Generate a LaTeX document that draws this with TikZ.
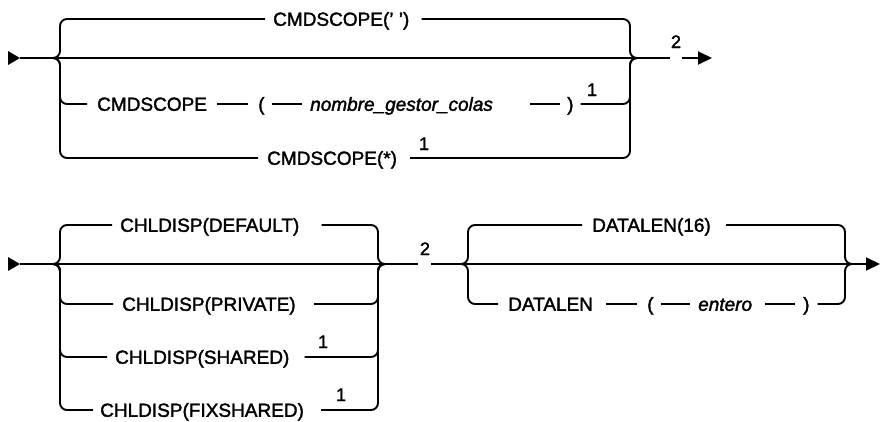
\documentclass[tikz,border=0pt]{standalone}
\usepackage{fontspec}
\setmainfont{Liberation Sans}[FakeBold=1.8]
\usetikzlibrary{arrows.meta,calc}

\begin{document}
\begin{tikzpicture}[x=1pt,y=-1pt,
    rail/.style={line width=1.9pt, rounded corners=7pt},
    lbl/.style={anchor=west, inner xsep=0pt, inner ysep=0pt,
        text height=13.6pt, text depth=0pt, font=\fontsize{19}{22}\selectfont},
    var/.style={lbl, font=\fontsize{19}{22}\selectfont\itshape},
    note/.style={anchor=base, inner sep=0pt, font=\fontsize{18}{20}\selectfont},
    endarrow/.style={rail, -{Triangle[length=14pt,width=13pt]}}
]
\useasboundingbox (0,0) rectangle (880,421);

% primer diagrama: CMDSCOPE
\coordinate (tbeg) at (20,58);
\coordinate (tjl) at (53,58);
\coordinate (tjr) at (637,58);
\coordinate (t2l) at (670,58);
\coordinate (t2r) at (682,58);
\coordinate (tend) at (712,58);

\node[lbl] (dflt) at (273,19) {CMDSCOPE(' ')};
\node[lbl] (cmd) at (97,104) {CMDSCOPE};
\node[lbl] (lpar) at (258,104) {(};
\node[var] (qmgr) at (310,104) {nombre\_gestor\_colas};
\node[lbl] (rpar) at (567,104) {)};
\node[lbl] (star) at (267,158) {CMDSCOPE(*)};
\node[note] (n1a) at (592,96) {1};
\node[note] (n1b) at (424,150) {1};
\node[note] (n2a) at (676,48) {2};

\fill (tbeg) -- ++(-12,-7) -- ++(0,14) -- cycle;
\draw[rail] (tbeg) -- (tjl) -- (tjr) -- (t2l);
\draw[endarrow] (t2r) -- (tend);

\draw[rail] (tjl) -- ++(7,0) |- ([xshift=-8pt]dflt.west);
\draw[rail] ([xshift=12pt]dflt.east) -| ([xshift=-7pt]tjr) -- (tjr);

\draw[rail] (tjl) -- ++(7,0) |- ([xshift=-10pt]cmd.west);
\draw[rail] ([xshift=10pt]cmd.east) -- ([xshift=-10pt]lpar.west);
\draw[rail] ([xshift=7pt]lpar.east) -- ([xshift=-8pt]qmgr.west);
\draw[rail] ([xshift=-37pt]rpar.west) -- ([xshift=-7pt]rpar.west);
\draw[rail] ([xshift=7pt]rpar.east) -| ([xshift=-7pt]tjr) -- (tjr);

\draw[rail] (tjl) -- ++(7,0) |- ([xshift=-9pt]star.west);
\draw[rail] ([xshift=13pt]star.east) -| ([xshift=-7pt]tjr) -- (tjr);

% segundo diagrama: CHLDISP y DATALEN
\coordinate (bbeg) at (20,264);
\coordinate (bjl) at (53,264);
\coordinate (bjr) at (385,264);
\coordinate (b2l) at (418,264);
\coordinate (b2r) at (431,264);
\coordinate (djl) at (461,264);
\coordinate (djr) at (852,264);
\coordinate (bend) at (880,264);

\node[lbl] (chdef) at (120,225) {CHLDISP(DEFAULT)};
\node[lbl] (chpriv) at (122,304) {CHLDISP(PRIVATE)};
\node[lbl] (chshr) at (115,357) {CHLDISP(SHARED)};
\node[lbl] (chfix) at (100,410) {CHLDISP(FIXSHARED)};
\node[note] (n1c) at (323,348) {1};
\node[note] (n1d) at (341,401) {1};
\node[note] (n2b) at (425,255) {2};

\node[lbl] (dlen16) at (592,225) {DATALEN(16)};
\node[lbl] (dlen) at (508,304) {DATALEN};
\node[lbl] (dlpar) at (647,304) {(};
\node[var] (ent) at (698,304) {entero};
\node[lbl] (dlrpar) at (803,304) {)};

\fill (bbeg) -- ++(-12,-7) -- ++(0,14) -- cycle;
\draw[rail] (bbeg) -- (bjl) -- (bjr) -- (b2l);
\draw[rail] (b2r) -- (djl) -- (djr);
\draw[endarrow] (djr) -- (bend);

\draw[rail] (bjl) -- ++(7,0) |- ([xshift=-8pt]chdef.west);
\draw[rail] ([xshift=22pt]chdef.east) -| ([xshift=-7pt]bjr) -- (bjr);
\draw[rail] (bjl) -- ++(7,0) |- ([xshift=-9pt]chpriv.west);
\draw[rail] ([xshift=18pt]chpriv.east) -| ([xshift=-7pt]bjr) -- (bjr);
\draw[rail] (bjl) -- ++(7,0) |- ([xshift=-8pt]chshr.west);
\draw[rail] ([xshift=15pt]chshr.east) -| ([xshift=-7pt]bjr) -- (bjr);
\draw[rail] (bjl) -- ++(7,0) |- ([xshift=-7pt]chfix.west);
\draw[rail] ([xshift=17pt]chfix.east) -| ([xshift=-7pt]bjr) -- (bjr);

\draw[rail] (djl) -- ++(7,0) |- ([xshift=-10pt]dlen16.west);
\draw[rail] ([xshift=15pt]dlen16.east) -| ([xshift=-7pt]djr) -- (djr);
\draw[rail] (djl) -- ++(7,0) |- ([xshift=-10pt]dlen.west);
\draw[rail] ([xshift=13pt]dlen.east) -- ([xshift=-10pt]dlpar.west);
\draw[rail] ([xshift=7pt]dlpar.east) -- ([xshift=-8pt]ent.west);
\draw[rail] ([xshift=13pt]ent.east) -- ([xshift=-8pt]dlrpar.west);
\draw[rail] ([xshift=8pt]dlrpar.east) -| ([xshift=-7pt]djr) -- (djr);

\end{tikzpicture}
\end{document}
